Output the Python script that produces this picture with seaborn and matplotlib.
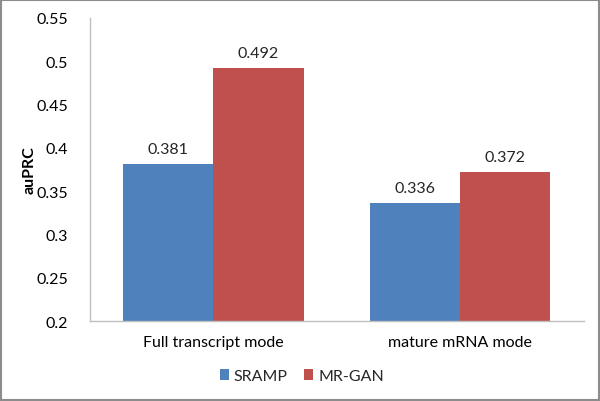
import matplotlib
matplotlib.use("Agg")
import matplotlib.pyplot as plt
import seaborn as sns
import pandas as pd
from matplotlib.patches import Rectangle

categories = ["Full transcript mode", "mature mRNA mode"]
series = ["SRAMP", "MR-GAN"]
sramp = [0.381, 0.336]
mrgan = [0.492, 0.372]
yticks = [0.2, 0.25, 0.3, 0.35, 0.4, 0.45, 0.5, 0.55]
ytick_labels = ["0.2", "0.25", "0.3", "0.35", "0.4", "0.45", "0.5", "0.55"]

df = pd.DataFrame({
    "category": categories * 2,
    "series": [series[0]] * 2 + [series[1]] * 2,
    "value": sramp + mrgan,
})

sns.set_theme(style="white")
plt.rcParams["font.family"] = ["Lato", "DejaVu Sans"]
FS = 11.5

fig = plt.figure(figsize=(6, 4.02), dpi=100)
ax = fig.add_axes([0.15, 0.199, 0.823, 0.754])
palette = {"SRAMP": "#4F81BD", "MR-GAN": "#C0504D"}
sns.barplot(data=df, x="category", y="value", hue="series", palette=palette,
            width=0.73, ax=ax, saturation=1, legend=True, linewidth=0)

ax.set_ylim(0.2, 0.55)
ax.set_yticks(yticks)
ax.set_yticklabels(ytick_labels, fontsize=FS, color="#000000")
ax.tick_params(axis="x", labelsize=FS, length=0, pad=10, labelcolor="#000000")
ax.tick_params(axis="y", length=0, pad=16)
ax.set_xlabel("")
ax.set_ylabel("auPRC", fontsize=FS, fontweight="bold", color="#000000")
ax.yaxis.set_label_coords(-0.108, 0.5)
for s in ["top", "right"]:
    ax.spines[s].set_visible(False)
for s in ["left", "bottom"]:
    ax.spines[s].set_color("#BFBFBF")
    ax.spines[s].set_linewidth(1)

for cont in ax.containers:
    ax.bar_label(cont, labels=[f"{v:.3f}" for v in cont.datavalues], padding=6, fontsize=FS)

handles, labels = ax.get_legend_handles_labels()
ax.get_legend().remove()
fig.legend(handles, labels, loc="center", bbox_to_anchor=(0.503, 0.062), ncol=2, frameon=False,
           fontsize=FS, handlelength=0.6, handleheight=0.6, columnspacing=1.0,
           handletextpad=0.3)

fig.patches.append(Rectangle((0.002, 0.002), 0.996, 0.996, transform=fig.transFigure,
                             fill=False, edgecolor="#8C8C8C", linewidth=1.5))
fig.savefig("out.png", dpi=100)
